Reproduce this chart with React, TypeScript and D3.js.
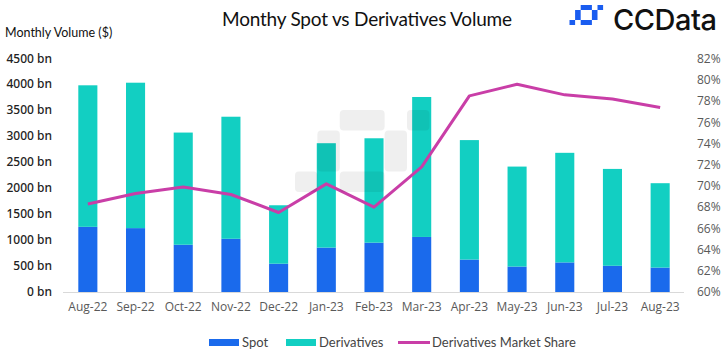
import React from "react";
import * as d3 from "d3";

const months = ["Aug-22", "Sep-22", "Oct-22", "Nov-22", "Dec-22", "Jan-23", "Feb-23", "Mar-23", "Apr-23", "May-23", "Jun-23", "Jul-23", "Aug-23"];
const spot = [1255, 1230, 910, 1025, 545, 855, 950, 1060, 625, 490, 570, 505, 470];
const derivatives = [2725, 2800, 2160, 2350, 1125, 2010, 2010, 2695, 2300, 1925, 2110, 1865, 1625];
const marketShare = [68.3, 69.3, 69.9, 69.2, 67.5, 70.2, 68.0, 71.8, 78.5, 79.6, 78.6, 78.2, 77.4];
const leftTicks = [0, 500, 1000, 1500, 2000, 2500, 3000, 3500, 4000, 4500];
const rightTicks = [60, 62, 64, 66, 68, 70, 72, 74, 76, 78, 80, 82];

const SPOT = "#1a6aec";
const DERIV = "#12cfc2";
const LINE = "#c93ea7";

// logo mark as grid cells: col, row, colspan, rowspan (6 x 4 grid)
const mark = [
  [2, 0, 2, 1],
  [5, 0, 1, 1],
  [1, 1, 1, 2],
  [4, 1, 1, 2],
  [2, 3, 2, 1],
  [0, 3, 1, 1],
];

function Mark({ x0, y0, cw, ch, fill, opacity, r }: { x0: number; y0: number; cw: number; ch: number; fill: string; opacity?: number; r?: number }) {
  return (
    <g fill={fill} opacity={opacity}>
      {mark.map(([c, rw, cs, rs], i) => (
        <rect key={i} x={x0 + c * cw} y={y0 + rw * ch} width={cs * cw} height={rs * ch} rx={r} />
      ))}
    </g>
  );
}

export default function App() {
  const width = 727;
  const height = 360;
  const x = d3.scaleBand().domain(months).range([64, 684]).paddingInner(0.6).paddingOuter(0.3);
  const y = d3.scaleLinear().domain([0, 4500]).range([292, 58.3]);
  const yr = d3.scaleLinear().domain([60, 82]).range([292, 58.8]);
  const cx = (m: string) => (x(m) ?? 0) + x.bandwidth() / 2;

  const line = d3
    .line<number>()
    .x((_, i) => cx(months[i]))
    .y((d) => yr(d));

  const font = "'Noto Sans', sans-serif";

  return (
    <svg width={width} height={height} style={{ position: "absolute", left: 0, top: 0, background: "#fff" }}>
      <rect width={width} height={height} fill="#fff" />
      <text x={367} y={26} textAnchor="middle" fontFamily="Lato, sans-serif" fontSize={19} fill="#111" textLength={290}>
        Monthy Spot vs Derivatives Volume
      </text>
      <text x={5} y={37} fontFamily="Lato, sans-serif" fontSize={12.5} fill="#111">
        Monthly Volume ($)
      </text>

      {/* logo */}
      <Mark x0={569.5} y0={5} cw={5.6} ch={5} fill="#1a5df0" />
      <text x={613} y={30} fontFamily="Inter, sans-serif" fontWeight={500} fontSize={29} fill="#111" textLength={104}>
        CCData
      </text>

      {/* left axis labels */}
      {leftTicks.map((t) => (
        <text key={t} x={52} y={y(t)} dy="0.35em" textAnchor="end" fontFamily={font} fontWeight={500} fontSize={12} fill="#222">
          {t} bn
        </text>
      ))}
      {/* right axis labels */}
      {rightTicks.map((t) => (
        <text key={t} x={697} y={yr(t)} dy="0.35em" fontFamily="'Open Sans', sans-serif" fontSize={12} fill="#595959">
          {t}%
        </text>
      ))}

      {/* bars */}
      {months.map((m, i) => (
        <g key={m}>
          <rect x={x(m)} y={y(spot[i])} width={x.bandwidth()} height={y(0) - y(spot[i])} fill={SPOT} />
          <rect
            x={x(m)}
            y={y(spot[i] + derivatives[i])}
            width={x.bandwidth()}
            height={y(spot[i]) - y(spot[i] + derivatives[i])}
            fill={DERIV}
          />
        </g>
      ))}
      <line x1={63} x2={684} y1={292.5} y2={292.5} stroke="#d9d9d9" strokeWidth={1} />

      {/* x labels */}
      {months.map((m) => (
        <text key={m} x={cx(m)} y={307} dy="0.35em" textAnchor="middle" fontFamily="'Open Sans', sans-serif" fontSize={12} fill="#595959">
          {m}
        </text>
      ))}

      <path d={line(marketShare) ?? ""} fill="none" stroke={LINE} strokeWidth={3} strokeLinejoin="round" />

      {/* watermark */}
      <Mark x0={295} y0={110} cw={22.4} ch={20.5} fill="#000" opacity={0.06} r={4} />

      {/* legend */}
      <g fontFamily="Lato, sans-serif" fontSize={13} fill="#444">
        <rect x={209} y={339} width={30} height={7} fill={SPOT} />
        <text x={242} y={342.5} dy="0.35em">Spot</text>
        <rect x={286} y={339} width={30} height={7} fill={DERIV} />
        <text x={319} y={342.5} dy="0.35em">Derivatives</text>
        <line x1={398} x2={430} y1={342.5} y2={342.5} stroke={LINE} strokeWidth={3} />
        <text x={432} y={342.5} dy="0.35em">Derivatives Market Share</text>
      </g>
    </svg>
  );
}
